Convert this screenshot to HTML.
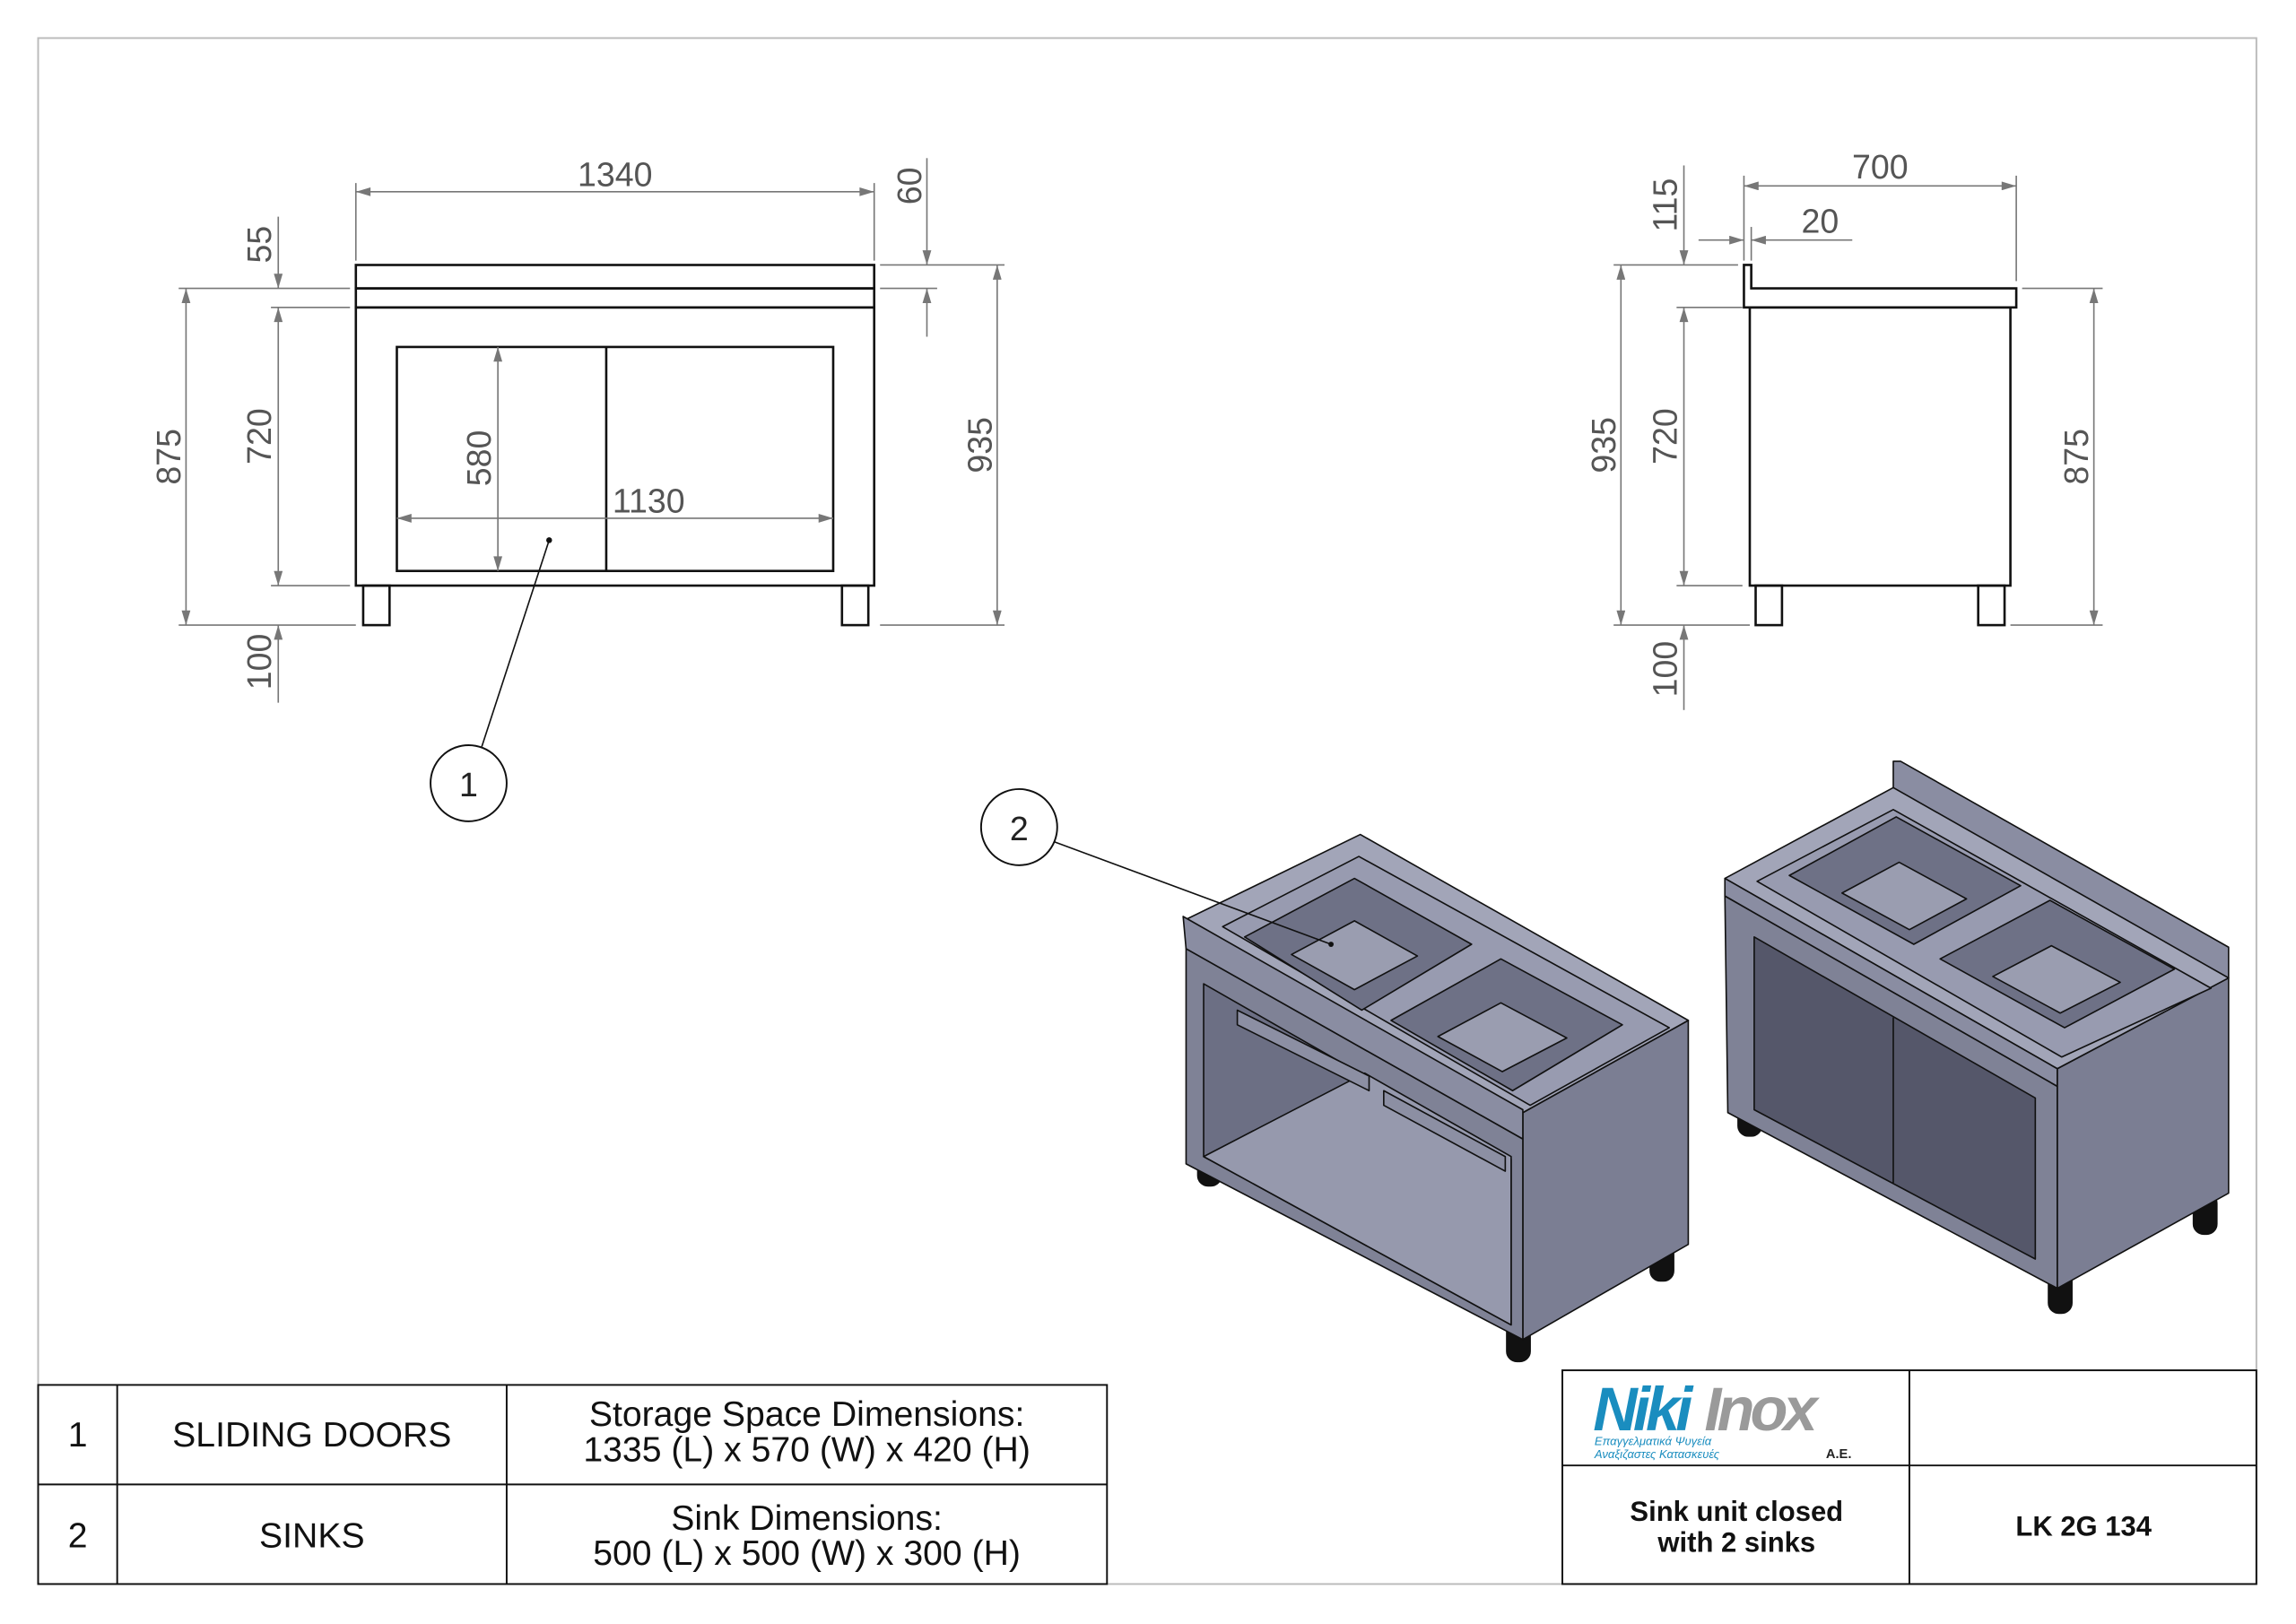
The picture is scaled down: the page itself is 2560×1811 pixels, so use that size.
<!DOCTYPE html>
<html><head><meta charset="utf-8"><style>
html,body{margin:0;padding:0;background:#fff}
svg{display:block}
text{font-family:"Liberation Sans Narrow","Liberation Sans",sans-serif}
.d{fill:#555;font-size:23px}
.dl{stroke:#777;stroke-width:1;fill:none}
.o{stroke:#111;stroke-width:1.6;fill:none}
.t{fill:#111;font-size:24px;text-anchor:middle}
</style></head><body>
<svg width="2560" height="1811" viewBox="0 0 1568 1109.3" xmlns="http://www.w3.org/2000/svg">
<defs>
<marker id="a" viewBox="0 0 10 6" refX="10" refY="3" markerWidth="18" markerHeight="6" markerUnits="userSpaceOnUse" orient="auto-start-reverse"><path d="M0,0L10,3L0,6z" fill="#777"/></marker>
</defs>
<rect x="26" y="26" width="1515" height="1056" fill="none" stroke="#bbb" stroke-width="1.2"/>

<!-- FRONT VIEW -->
<rect class="o" x="243" y="181" width="354" height="16"/>
<rect class="o" x="243" y="197" width="354" height="13"/>
<rect class="o" x="243" y="210" width="354" height="190"/>
<rect class="o" x="271" y="237" width="298" height="153"/>
<line class="o" x1="414" y1="237" x2="414" y2="390"/>
<rect class="o" x="248" y="400" width="18" height="27"/>
<rect class="o" x="575" y="400" width="18" height="27"/>
<g class="dl">
<line x1="243" y1="125" x2="243" y2="178"/><line x1="597" y1="125" x2="597" y2="178"/>
<line x1="243" y1="131" x2="597" y2="131" marker-start="url(#a)" marker-end="url(#a)"/>
<line x1="601" y1="181" x2="686" y2="181"/><line x1="601" y1="197" x2="640" y2="197"/>
<line x1="633" y1="108" x2="633" y2="181" marker-end="url(#a)"/><line x1="633" y1="230" x2="633" y2="197" marker-end="url(#a)"/>
<line x1="601" y1="427" x2="686" y2="427"/>
<line x1="681" y1="181" x2="681" y2="427" marker-start="url(#a)" marker-end="url(#a)"/>
<line x1="122" y1="197" x2="239" y2="197"/><line x1="185" y1="210" x2="239" y2="210"/>
<line x1="185" y1="400" x2="239" y2="400"/><line x1="122" y1="427" x2="243" y2="427"/>
<line x1="127" y1="197" x2="127" y2="427" marker-start="url(#a)" marker-end="url(#a)"/>
<line x1="190" y1="148" x2="190" y2="197" marker-end="url(#a)"/>
<line x1="190" y1="210" x2="190" y2="400" marker-start="url(#a)" marker-end="url(#a)"/>
<line x1="190" y1="480" x2="190" y2="427" marker-end="url(#a)"/>
<line x1="340" y1="237" x2="340" y2="390" marker-start="url(#a)" marker-end="url(#a)"/>
<line x1="271" y1="354" x2="569" y2="354" marker-start="url(#a)" marker-end="url(#a)"/>
</g>
<text class="d" x="420" y="127" text-anchor="middle">1340</text>
<text class="d" transform="translate(629,127) rotate(-90)" text-anchor="middle">60</text>
<text class="d" transform="translate(185,167) rotate(-90)" text-anchor="middle">55</text>
<text class="d" transform="translate(123,312) rotate(-90)" text-anchor="middle">875</text>
<text class="d" transform="translate(185,298) rotate(-90)" text-anchor="middle">720</text>
<text class="d" transform="translate(185,452) rotate(-90)" text-anchor="middle">100</text>
<text class="d" transform="translate(677,304) rotate(-90)" text-anchor="middle">935</text>
<text class="d" transform="translate(335,313) rotate(-90)" text-anchor="middle">580</text>
<text class="d" x="443" y="350" text-anchor="middle">1130</text>
<circle cx="375" cy="369" r="2" fill="#111"/>
<line x1="375" y1="369" x2="329" y2="510" stroke="#111" stroke-width="1"/>
<circle cx="320" cy="535" r="26" fill="#fff" stroke="#111" stroke-width="1.2"/>
<text class="d" x="320" y="544" text-anchor="middle" style="fill:#222">1</text>

<!-- SIDE VIEW -->
<path class="o" d="M1191,181 L1196,181 L1196,197 L1377,197 L1377,210 L1191,210 Z"/>
<rect class="o" x="1195" y="210" width="178" height="190"/>
<rect class="o" x="1199" y="400" width="18" height="27"/>
<rect class="o" x="1351" y="400" width="18" height="27"/>
<g class="dl">
<line x1="1191" y1="120" x2="1191" y2="178"/><line x1="1377" y1="120" x2="1377" y2="192"/>
<line x1="1191" y1="127" x2="1377" y2="127" marker-start="url(#a)" marker-end="url(#a)"/>
<line x1="1196" y1="155" x2="1196" y2="178"/>
<line x1="1160" y1="164" x2="1191" y2="164" marker-end="url(#a)"/>
<line x1="1265" y1="164" x2="1196" y2="164" marker-end="url(#a)"/>
<line x1="1102" y1="181" x2="1187" y2="181"/><line x1="1145" y1="210" x2="1190" y2="210"/>
<line x1="1145" y1="400" x2="1190" y2="400"/><line x1="1102" y1="427" x2="1195" y2="427"/>
<line x1="1381" y1="197" x2="1436" y2="197"/><line x1="1373" y1="427" x2="1436" y2="427"/>
<line x1="1150" y1="113" x2="1150" y2="181" marker-end="url(#a)"/>
<line x1="1150" y1="210" x2="1150" y2="400" marker-start="url(#a)" marker-end="url(#a)"/>
<line x1="1150" y1="485" x2="1150" y2="427" marker-end="url(#a)"/>
<line x1="1107" y1="181" x2="1107" y2="427" marker-start="url(#a)" marker-end="url(#a)"/>
<line x1="1430" y1="197" x2="1430" y2="427" marker-start="url(#a)" marker-end="url(#a)"/>
</g>
<text class="d" x="1284" y="122" text-anchor="middle">700</text>
<text class="d" x="1243" y="159" text-anchor="middle">20</text>
<text class="d" transform="translate(1145,140) rotate(-90)" text-anchor="middle">115</text>
<text class="d" transform="translate(1103,304) rotate(-90)" text-anchor="middle">935</text>
<text class="d" transform="translate(1145,298) rotate(-90)" text-anchor="middle">720</text>
<text class="d" transform="translate(1145,457) rotate(-90)" text-anchor="middle">100</text>
<text class="d" transform="translate(1426,312) rotate(-90)" text-anchor="middle">875</text>

<!-- ISO LEFT (open) -->
<g stroke="#111" stroke-width="1" stroke-linejoin="round">
<rect x="818" y="780" width="16" height="30" rx="7" fill="#111"/>
<rect x="1029" y="900" width="16" height="30" rx="7" fill="#111"/>
<rect x="1127" y="845" width="16" height="30" rx="7" fill="#111"/>
<polygon points="1040,760 1153,697 1153,850 1040,915" fill="#7b7e93"/>
<polygon points="810,648 1040,778 1040,915 810,795" fill="#7f8296"/>
<polygon points="822,672 1032,792 1032,905 822,790" fill="#6c6f84"/>
<polygon points="822,790 932,733 1032,790 1032,905" fill="#9699ad"/>
<polygon points="845,690 935,735 935,745 845,700" fill="#8c8fa3"/>
<polygon points="945,745 1028,790 1028,800 945,755" fill="#8c8fa3"/>
<polygon points="810,628 929,570 1153,697 1040,760" fill="#a2a5b8"/>
<polygon points="835,633 928,585 1140,702 1045,755" fill="#989bb0"/>
<polygon points="850,640 925,600 1005,645 930,690" fill="#6e7186"/>
<polygon points="882,652 925,629 968,653 925,676" fill="#9a9db0"/>
<polygon points="950,697 1025,655 1108,700 1033,745" fill="#6e7186"/>
<polygon points="982,708 1025,685 1070,709 1026,732" fill="#9a9db0"/>
<polygon points="808,626 1040,758 1040,778 810,648" fill="#8a8da2"/>
</g>
<circle cx="909" cy="645" r="1.8" fill="#111"/>
<line x1="720" y1="575" x2="909" y2="645" stroke="#111" stroke-width="1"/>
<circle cx="696" cy="565" r="26" fill="#fff" stroke="#111" stroke-width="1.2"/>
<text class="d" x="696" y="574" text-anchor="middle" style="fill:#222">2</text>

<!-- ISO RIGHT (closed) -->
<g stroke="#111" stroke-width="1" stroke-linejoin="round">
<rect x="1187" y="750" width="16" height="26" rx="7" fill="#111"/>
<rect x="1399" y="865" width="16" height="32" rx="7" fill="#111"/>
<rect x="1498" y="815" width="16" height="28" rx="7" fill="#111"/>
<polygon points="1405,730 1522,668 1522,815 1405,880" fill="#7b7e93"/>
<polygon points="1178,612 1405,742 1405,880 1180,760" fill="#7f8296"/>
<polygon points="1198,640 1390,750 1390,860 1198,758" fill="#55576a"/>
<line x1="1293" y1="695" x2="1293" y2="808"/>
<polygon points="1293,520 1298,520 1522,647 1522,668 1293,540" fill="#8a8da2"/>
<polygon points="1178,600 1293,538 1522,668 1405,730" fill="#a2a5b8"/>
<polygon points="1178,600 1405,730 1405,742 1178,612" fill="#8a8da2"/>
<polygon points="1200,602 1293,553 1510,675 1408,722" fill="#989bb0"/>
<polygon points="1222,598 1295,558 1380,605 1307,645" fill="#6e7186"/>
<polygon points="1258,610 1297,589 1343,614 1304,635" fill="#9a9db0"/>
<polygon points="1325,655 1400,615 1485,662 1410,702" fill="#6e7186"/>
<polygon points="1361,667 1401,646 1448,671 1407,692" fill="#9a9db0"/>
</g>

<!-- BOTTOM LEFT TABLE -->
<g stroke="#111" stroke-width="1.2" fill="none">
<rect x="26" y="946" width="730" height="136"/>
<line x1="26" y1="1014" x2="756" y2="1014"/>
<line x1="80" y1="946" x2="80" y2="1082"/>
<line x1="346" y1="946" x2="346" y2="1082"/>
</g>
<text class="t" x="53" y="988">1</text>
<text class="t" x="213" y="988">SLIDING DOORS</text>
<text class="t" x="551" y="974">Storage Space Dimensions:</text>
<text class="t" x="551" y="998">1335 (L) x 570 (W) x 420 (H)</text>
<text class="t" x="53" y="1057">2</text>
<text class="t" x="213" y="1057">SINKS</text>
<text class="t" x="551" y="1045">Sink Dimensions:</text>
<text class="t" x="551" y="1069">500 (L) x 500 (W) x 300 (H)</text>

<!-- TITLE BLOCK -->
<g stroke="#111" stroke-width="1.2" fill="none">
<rect x="1067" y="936" width="474" height="146"/>
<line x1="1067" y1="1001" x2="1541" y2="1001"/>
<line x1="1304" y1="936" x2="1304" y2="1082"/>
</g>
<text x="1088" y="977" style="font-family:'Liberation Sans',sans-serif;font-weight:bold;font-style:italic;font-size:42px;fill:#1a8dbf;letter-spacing:-3px">Niki</text>
<text x="1164" y="977" style="font-family:'Liberation Sans',sans-serif;font-weight:bold;font-style:italic;font-size:42px;fill:#9a9a9a;letter-spacing:-3px">Inox</text>
<text x="1089" y="987" style="font-size:8px;fill:#1a8dbf;font-style:italic">Επαγγελματικά Ψυγεία</text>
<text x="1089" y="996" style="font-size:8px;fill:#1a8dbf;font-style:italic">Αναξιζαστες Κατασκευές</text>
<text x="1247" y="996" style="font-size:9px;fill:#222;font-weight:bold">A.E.</text>
<text x="1186" y="1039" style="font-family:'Liberation Sans',sans-serif;font-weight:bold;font-size:19px;fill:#111;text-anchor:middle">Sink unit closed</text>
<text x="1186" y="1060" style="font-family:'Liberation Sans',sans-serif;font-weight:bold;font-size:19px;fill:#111;text-anchor:middle">with 2 sinks</text>
<text x="1423" y="1049" style="font-family:'Liberation Sans',sans-serif;font-weight:bold;font-size:19px;fill:#111;text-anchor:middle">LK 2G 134</text>
</svg>
</body></html>
